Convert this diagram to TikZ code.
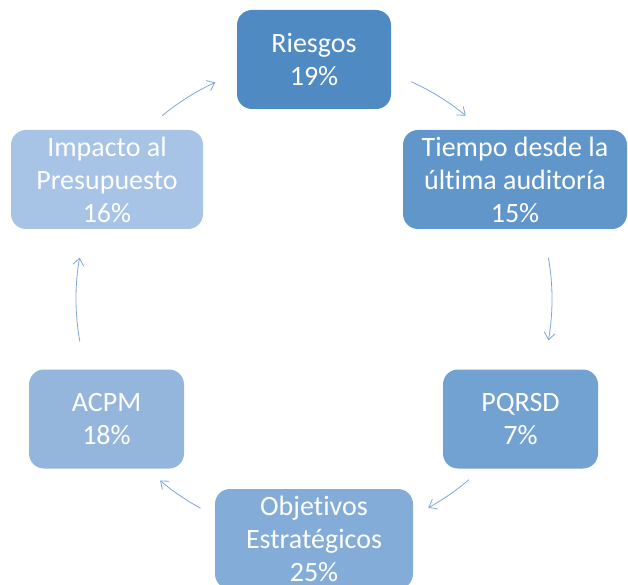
\documentclass[tikz,border=0pt]{standalone}
\usepackage{fontspec}
\setmainfont{Carlito}[Ligatures=NoCommon]
\usetikzlibrary{arrows.meta}
\definecolor{cA}{RGB}{79,138,195}
\definecolor{cB}{RGB}{96,150,202}
\definecolor{cC}{RGB}{114,162,209}
\definecolor{cD}{RGB}{131,173,216}
\definecolor{cE}{RGB}{148,182,221}
\definecolor{cF}{RGB}{167,195,229}
\definecolor{arrowc}{RGB}{128,166,216}
\tikzset{
  stage/.style={rounded corners=15pt, inner sep=0pt, minimum height=99pt,
    text=white, align=center, font=\fontsize{28}{33}\selectfont},
  cyc/.style={draw=arrowc, line width=0.8pt, -{Straight Barb[length=7pt,width=11pt]}}
}
\begin{document}
\begin{tikzpicture}[x=1pt,y=1pt]
\useasboundingbox (0,0) rectangle (628,584);
\clip (0,0) rectangle (628,584);
\coordinate (c) at (314,285);
\node[stage, fill=cA, minimum width=154pt] (r) at (314,524.5) {Riesgos\\19\%};
\node[stage, fill=cB, minimum width=224pt] (t) at (515,404.5) {Tiempo desde la\\última auditoría\\15\%};
\node[stage, fill=cC, minimum width=155pt] (p) at (520.5,165) {PQRSD\\7\%};
\node[stage, fill=cD, minimum width=198pt, minimum height=100pt] (o) at (314,45) {Objetivos\\Estratégicos\\25\%};
\node[stage, fill=cE, minimum width=155pt] (a) at (106.5,165) {ACPM\\18\%};
\node[stage, fill=cF, minimum width=192pt] (i) at (107,404.5) {Impacto al\\Presupuesto\\16\%};
\draw[cyc] ([shift={(129.6:238pt)}]c) arc[start angle=129.6, end angle=114.5, radius=238pt];
\draw[cyc] ([shift={(65.9:238pt)}]c) arc[start angle=65.9, end angle=50.4, radius=238pt];
\draw[cyc] ([shift={(10:238pt)}]c) arc[start angle=10, end angle=-10, radius=238pt];
\draw[cyc] ([shift={(-49.4:238pt)}]c) arc[start angle=-49.4, end angle=-61.3, radius=238pt];
\draw[cyc] ([shift={(241.5:238pt)}]c) arc[start angle=241.5, end angle=229.7, radius=238pt];
\draw[cyc] ([shift={(190.3:238pt)}]c) arc[start angle=190.3, end angle=170, radius=238pt];
\end{tikzpicture}
\end{document}
